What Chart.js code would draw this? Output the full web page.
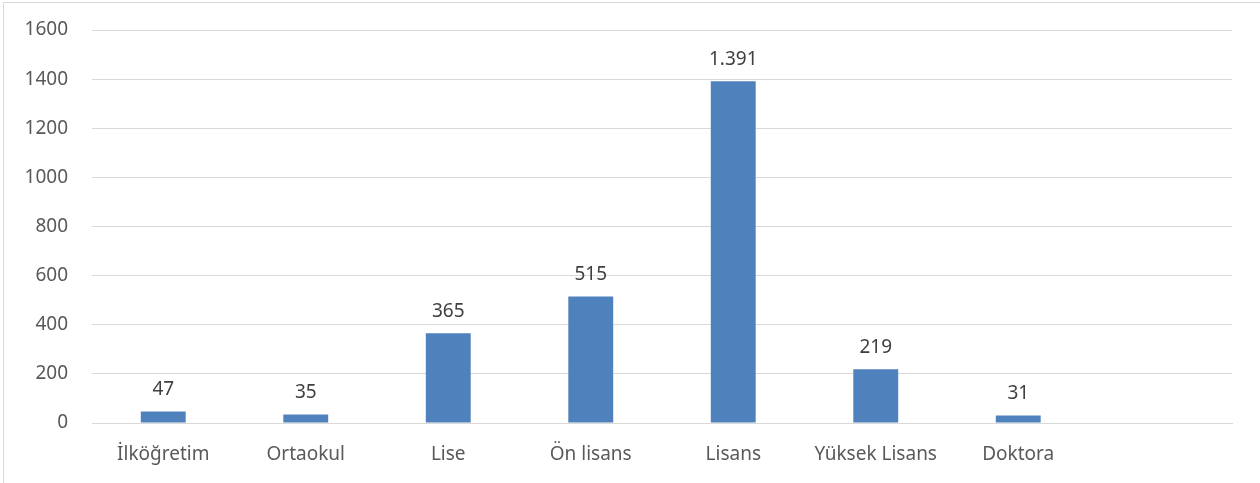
<!DOCTYPE html>
<html>
<head>
<meta charset="utf-8">
<script src="https://cdn.jsdelivr.net/npm/chart.js@4/dist/chart.umd.min.js"></script>
<style>
  html, body { margin: 0; padding: 0; background: #fff; }
  #wrap { width: 1260px; height: 483px; }
</style>
</head>
<body>
<div id="wrap"><canvas id="eduChart" width="1260" height="483"></canvas></div>
<script>
// categories (last slot is empty in the original)
const categories = ['İlköğretim', 'Ortaokul', 'Lise', 'Ön lisans', 'Lisans', 'Yüksek Lisans', 'Doktora', ''];
const counts = [47, 35, 365, 515, 1391, 219, 31, null];
const yTicks = [0, 200, 400, 600, 800, 1000, 1200, 1400, 1600];

const fontFamily = "'Noto Sans', 'Open Sans', sans-serif";

// thousands with a dot, as in the picture (1.391)
function trNumber(v) {
  return String(v).replace(/\B(?=(\d{3})+(?!\d))/g, '.');
}

const valueLabels = {
  id: 'valueLabels',
  afterDatasetsDraw(chart) {
    const ctx = chart.ctx;
    const meta = chart.getDatasetMeta(0);
    ctx.save();
    ctx.font = '19px ' + fontFamily;
    ctx.fillStyle = '#404040';
    ctx.textAlign = 'center';
    ctx.textBaseline = 'bottom';
    meta.data.forEach((bar, i) => {
      const v = counts[i];
      if (v == null) return;
      ctx.fillText(trNumber(v), bar.x, bar.y - 12);
    });
    ctx.restore();
  }
};

const frame = {
  id: 'frame',
  beforeDraw(chart) {
    const ctx = chart.ctx;
    ctx.save();
    ctx.fillStyle = '#fff';
    ctx.fillRect(0, 0, chart.width, chart.height);
    ctx.strokeStyle = '#d9d9d9';
    ctx.lineWidth = 1;
    ctx.strokeRect(3.5, 2.5, 1300, 520);
    ctx.restore();
  }
};

function createChart(ctx) {
  return new Chart(ctx, {
    type: 'bar',
    data: {
      labels: categories,
      datasets: [{
        data: counts,
        backgroundColor: '#4f81bd',
        barPercentage: 0.315,
        categoryPercentage: 1.0
      }]
    },
    options: {
      responsive: false,
      animation: false,
      layout: { padding: { left: 0, right: 28, top: 30, bottom: 0 } },
      plugins: {
        legend: { display: false },
        tooltip: { enabled: false }
      },
      scales: {
        x: {
          grid: { display: false },
          border: { color: '#d9d9d9', width: 1 },
          ticks: {
            color: '#595959',
            font: { family: fontFamily, size: 19 },
            padding: 12,
            maxRotation: 0,
            autoSkip: false
          },
          afterFit(scale) { scale.height = 60; }
        },
        y: {
          min: 0,
          max: 1600,
          afterBuildTicks(scale) {
            scale.ticks = yTicks.map(v => ({ value: v }));
          },
          grid: { color: '#d9d9d9', lineWidth: 1, drawTicks: false },
          border: { display: false },
          ticks: {
            color: '#595959',
            font: { family: fontFamily, size: 19 },
            padding: 24,
            callback: v => String(v)
          },
          afterFit(scale) {
            scale.width = 92;
            scale.paddingTop = 0;
            scale.paddingBottom = 0;
          }
        }
      }
    },
    plugins: [frame, valueLabels]
  });
}

createChart(document.getElementById('eduChart'));
</script>
</body>
</html>
